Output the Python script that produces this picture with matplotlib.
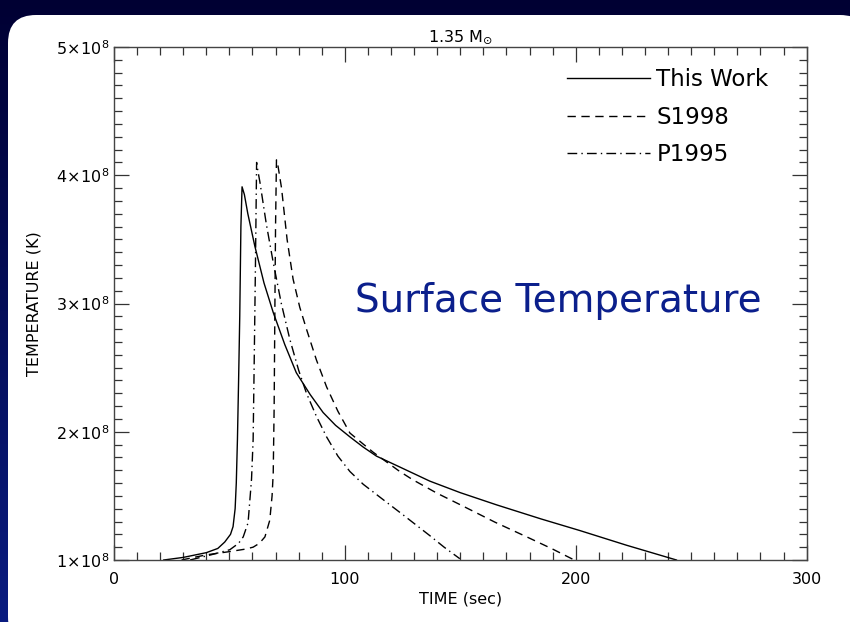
import matplotlib
matplotlib.use("Agg")
import matplotlib.pyplot as plt
import numpy as np
from matplotlib.patches import FancyBboxPatch
from matplotlib.ticker import MultipleLocator, FuncFormatter

# time (sec) / temperature (K)
this_work_t = [21.6, 30.0, 40.0, 45.0, 48.0, 50.5, 51.6, 52.5, 53.0, 53.5, 54.0, 54.5,
               55.0, 55.5, 56.5, 58.0, 61.0, 65.0, 69.0, 74.0, 79.0, 85.0, 90.6, 96.0,
               102.2, 108.0, 113.7, 123.8, 136.8, 150.0, 165.7, 185.0, 201.7, 222.0, 243.6]
this_work_T = [1.00e8, 1.02e8, 1.057e8, 1.09e8, 1.14e8, 1.20e8, 1.26e8, 1.40e8, 1.60e8,
               1.94e8, 2.40e8, 2.90e8, 3.60e8, 3.91e8, 3.85e8, 3.70e8, 3.45e8, 3.16e8,
               2.93e8, 2.68e8, 2.46e8, 2.29e8, 2.15e8, 2.05e8, 1.96e8, 1.88e8, 1.81e8,
               1.725e8, 1.615e8, 1.525e8, 1.43e8, 1.32e8, 1.23e8, 1.115e8, 1.00e8]

s1998_t = [29.3, 40.0, 50.0, 57.0, 60.3, 63.0, 65.4, 67.5, 68.5, 69.0, 69.4, 69.7,
           70.0, 70.4, 71.0, 72.6, 75.0, 77.6, 80.5, 83.4, 87.7, 92.1, 97.0, 102.2,
           107.9, 112.3, 123.8, 129.5, 140.0, 151.2, 165.0, 180.0, 190.0, 198.8]
s1998_T = [1.00e8, 1.04e8, 1.065e8, 1.085e8, 1.10e8, 1.13e8, 1.18e8, 1.31e8, 1.50e8,
           1.68e8, 2.20e8, 2.93e8, 3.60e8, 4.12e8, 4.08e8, 3.90e8, 3.50e8, 3.19e8,
           2.97e8, 2.80e8, 2.56e8, 2.35e8, 2.16e8, 1.99e8, 1.905e8, 1.84e8, 1.69e8,
           1.625e8, 1.52e8, 1.42e8, 1.295e8, 1.17e8, 1.085e8, 1.005e8]

p1995_t = [33.0, 42.0, 50.2, 54.0, 56.0, 58.1, 59.6, 60.3, 60.8, 61.3, 61.8, 62.3,
           63.2, 66.0, 69.0, 72.5, 76.2, 80.0, 83.4, 87.7, 92.1, 97.0, 102.2, 108.0,
           115.2, 125.0, 136.8, 143.0, 149.8]
p1995_T = [1.00e8, 1.04e8, 1.08e8, 1.13e8, 1.18e8, 1.29e8, 1.63e8, 1.94e8, 2.60e8,
           3.30e8, 4.10e8, 4.04e8, 3.95e8, 3.62e8, 3.32e8, 3.00e8, 2.72e8, 2.48e8,
           2.30e8, 2.12e8, 1.96e8, 1.81e8, 1.69e8, 1.59e8, 1.49e8, 1.355e8, 1.19e8,
           1.10e8, 1.01e8]

labels = ["This Work", "S1998", "P1995"]

plt.rcParams["font.family"] = "DejaVu Sans"
plt.rcParams["mathtext.fontset"] = "dejavusans"

fig = plt.figure(figsize=(8.5, 6.22), dpi=100)

# dark blue slide background with a white rounded panel
bg = fig.add_axes([0, 0, 1, 1], zorder=-10)
grad = np.linspace(0, 1, 256).reshape(-1, 1)
cmap = matplotlib.colors.LinearSegmentedColormap.from_list("bg", ["#000033", "#0a1c80"])
bg.imshow(grad, aspect="auto", cmap=cmap, extent=[0, 850, 622, 0])
bg.set_xlim(0, 850)
bg.set_ylim(622, 0)
panel = FancyBboxPatch((8, 15), 860, 630, boxstyle="round,pad=0,rounding_size=28",
                       facecolor="white", edgecolor="none")
bg.add_patch(panel)
bg.axis("off")

ax = fig.add_axes([0.134, 0.0997, 0.815, 0.8247])
ax.plot(this_work_t, this_work_T, color="black", lw=1.0, ls="-", label=labels[0])
ax.plot(s1998_t, s1998_T, color="black", lw=1.0, ls=(0, (6, 4)), label=labels[1])
ax.plot(p1995_t, p1995_T, color="black", lw=1.0, ls=(0, (7, 3, 1, 3)), label=labels[2])

ax.set_xlim(0, 300)
ax.set_ylim(1e8, 5e8)
ax.xaxis.set_major_locator(MultipleLocator(100))
ax.xaxis.set_minor_locator(MultipleLocator(10))
ax.yaxis.set_major_locator(MultipleLocator(1e8))
ax.yaxis.set_minor_locator(MultipleLocator(1e7))
ax.yaxis.set_major_formatter(FuncFormatter(lambda v, p: r"$%d\!\times\!10^{8}$" % round(v / 1e8)))
ax.tick_params(which="both", direction="in", top=True, right=True, labelsize=11.5,
               color="#333333")
ax.tick_params(which="major", length=11, width=0.9)
ax.tick_params(which="minor", length=6, width=0.9)
ax.tick_params(axis="x", pad=9)
for s in ax.spines.values():
    s.set_linewidth(1.0)
    s.set_color("#444444")

ax.set_xlabel("TIME (sec)", fontsize=11.5, labelpad=3)
ax.set_ylabel("TEMPERATURE (K)", fontsize=11.5, labelpad=10)
ax.set_title(r"1.35 M$_{\odot}$", fontsize=11.5, pad=4)

ax.legend(loc="upper right", frameon=False, fontsize=16.5, handlelength=3.6,
          handletextpad=0.3, labelspacing=0.65, borderaxespad=0.5,
          bbox_to_anchor=(0.975, 1.0))

ax.text(0.641, 0.505, "Surface Temperature", transform=ax.transAxes,
        fontsize=28, color="#0b1f8c", ha="center", va="center")

fig.savefig("out.png", dpi=100)
